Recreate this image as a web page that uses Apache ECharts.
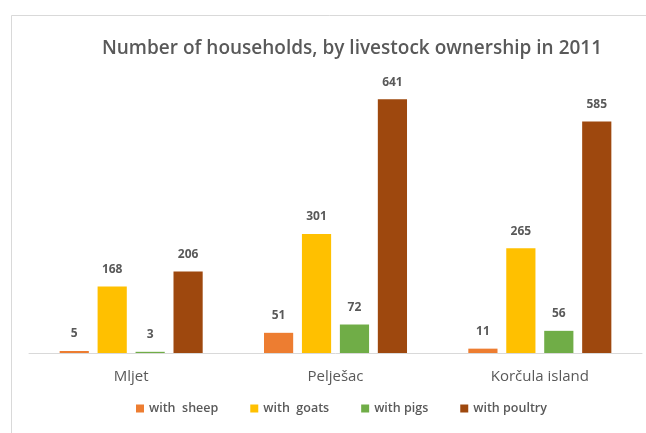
<!DOCTYPE html>
<html>
<head>
<meta charset="utf-8">
<script src="https://cdn.jsdelivr.net/npm/echarts@6/dist/echarts.min.js"></script>
<style>
  html, body { margin: 0; padding: 0; background: #ffffff; }
  #chart { width: 646px; height: 433px; }
</style>
</head>
<body>
<div id="chart"></div>
<script>
// Regions and the number of households keeping each kind of livestock
const regions = ['Mljet', 'Pelješac', 'Korčula island'];
const seriesNames = ['with  sheep', 'with  goats', 'with pigs', 'with poultry'];
const sheep = [5, 51, 11];
const goats = [168, 301, 265];
const pigs = [3, 72, 56];
const poultry = [206, 641, 585];

const values = [sheep, goats, pigs, poultry];
const colors = ['#ED7D31', '#FFC000', '#70AD47', '#9E480E'];
const textGray = '#595959';
const font = '"Open Sans", "Noto Sans", sans-serif';

const chart = echarts.init(document.getElementById('chart'), null, { renderer: 'canvas' });

chart.setOption({
  backgroundColor: '#ffffff',
  animation: false,
  textStyle: { fontFamily: font },
  graphic: [{
    type: 'rect',
    silent: true,
    z: -10,
    shape: { x: 11.5, y: 15.5, width: 720, height: 500 },
    style: { fill: 'none', stroke: '#d9d9d9', lineWidth: 1 }
  }],
  title: {
    text: 'Number of households, by livestock ownership in 2011',
    left: 347,
    textAlign: 'center',
    top: 34,
    textStyle: { fontFamily: font, fontSize: 19, fontWeight: 600, color: textGray }
  },
  legend: {
    bottom: 13,
    left: 131,
    itemWidth: 8,
    itemHeight: 8,
    itemGap: 32,
    itemTextGap: 4,
    icon: 'rect',
    textStyle: { fontFamily: font, fontSize: 12.5, fontWeight: 600, color: textGray },
    data: seriesNames
  },
  grid: { left: 29, right: 4, top: 76, bottom: 80, containLabel: false },
  xAxis: {
    type: 'category',
    data: regions,
    axisLine: { show: true, lineStyle: { color: '#d9d9d9', width: 1 } },
    axisTick: { show: false },
    axisLabel: { fontFamily: font, fontSize: 15, fontWeight: 500, color: textGray, margin: 16 }
  },
  yAxis: {
    type: 'value',
    min: 0,
    max: 700,
    show: false,
    splitLine: { show: false }
  },
  series: seriesNames.map((name, i) => ({
    name,
    type: 'bar',
    data: values[i],
    barGap: '30%',
    barCategoryGap: '30%',
    itemStyle: { color: colors[i] },
    label: {
      show: true,
      position: 'top',
      distance: 11,
      fontFamily: font,
      fontSize: 12,
      fontWeight: 'bold',
      color: textGray
    }
  }))
});
</script>
</body>
</html>
